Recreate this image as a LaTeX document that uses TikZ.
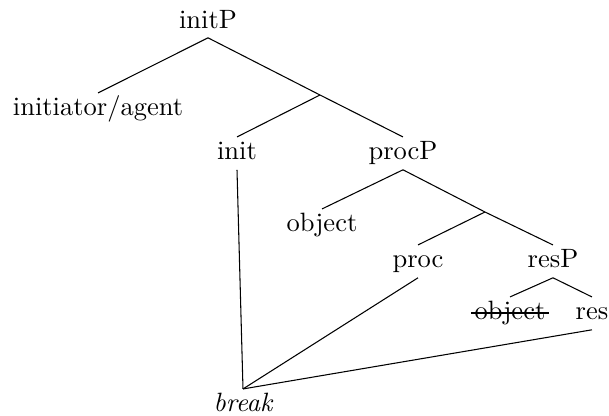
\documentclass[tikz,border=0pt]{standalone}
\begin{document}
\begin{tikzpicture}[x=0.3774pt,y=-0.3774pt,
  lbl/.style={anchor=base,inner sep=1.5pt,text height=7pt,text depth=2pt},
  edge/.style={line width=0.4pt},
  strike/.style={line width=0.6pt}]
\useasboundingbox (0,0) rectangle (609,416);
\node[lbl] (initP) at (208,28) {initP};
\node[lbl] (ia) at (98,116) {initiator/agent};
\node[lbl] (init) at (237,160) {init};
\node[lbl] (procP) at (403,160) {procP};
\node[lbl] (obj) at (322,232) {object};
\node[lbl] (proc) at (418,268) {proc};
\node[lbl] (resP) at (553,268) {resP};
\node[lbl] (sobj) at (510,320) {object};
\node[lbl] (res) at (592,320) {res};
\node[lbl] (brk) at (243,412) {\itshape break};
\coordinate (b1) at (320,95);
\coordinate (b2) at (485,212);
\draw[strike] ([xshift=0.5pt,yshift=2.6pt]sobj.base west) -- ([xshift=-0.5pt,yshift=2.6pt]sobj.base east);
\draw[edge] (initP.south) -- (ia.north);
\draw[edge] (initP.south) -- (b1) -- (procP.north);
\draw[edge] (b1) -- (init.north);
\draw[edge] (procP.south) -- (obj.north);
\draw[edge] (procP.south) -- (b2) -- (resP.north);
\draw[edge] (b2) -- (proc.north);
\draw[edge] (resP.south) -- (sobj.north);
\draw[edge] (resP.south) -- (res.north);
\draw[edge] (init.south) -- (brk.north);
\draw[edge] (proc.south) -- (brk.north);
\draw[edge] (res.south) -- (brk.north);
\end{tikzpicture}
\end{document}
